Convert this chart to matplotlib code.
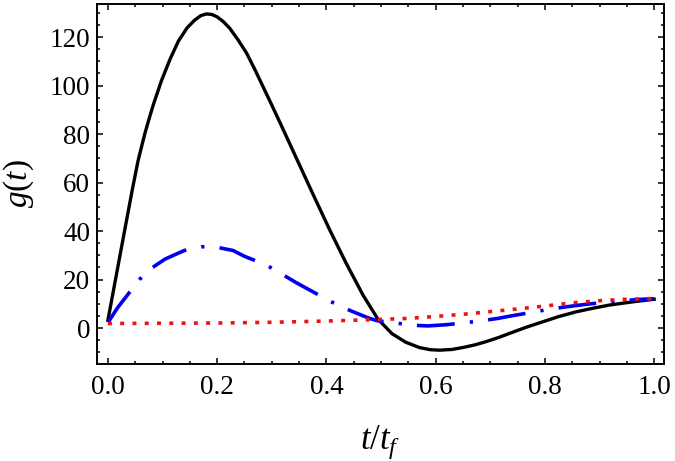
import numpy as np
import matplotlib
matplotlib.use("Agg")
import matplotlib.pyplot as plt
from matplotlib.ticker import MultipleLocator

# values
t_black = [0.0, 0.03, 0.045, 0.055, 0.062, 0.068, 0.075, 0.083, 0.098, 0.114, 0.129, 0.145,
           0.159, 0.17, 0.18, 0.19, 0.2, 0.211, 0.223, 0.238, 0.254, 0.269, 0.284, 0.299,
           0.314, 0.33, 0.348, 0.375, 0.406, 0.436, 0.467, 0.494, 0.52, 0.545, 0.57, 0.59,
           0.607, 0.63, 0.65, 0.672, 0.692, 0.715, 0.735, 0.765, 0.796, 0.826, 0.857, 0.888,
           0.918, 0.96, 1.0]
g_black = [3.3, 39.5, 57.5, 68.8, 75.2, 80.5, 86.0, 92.0, 102.0, 111.0, 118.3, 123.8,
           127.0, 128.8, 129.5, 129.3, 128.3, 126.4, 123.6, 118.9, 113.3, 106.6, 99.5, 92.4,
           85.2, 77.4, 68.6, 55.4, 40.5, 26.8, 13.6, 3.8, -2.3, -5.8, -8.0, -8.9,
           -9.1, -8.8, -8.0, -6.9, -5.6, -3.9, -2.2, 0.3, 2.6, 4.8, 6.7, 8.2,
           9.5, 10.8, 11.9]

t_blue = [0.0, 0.018, 0.058, 0.081, 0.105, 0.14, 0.171, 0.19, 0.2, 0.229, 0.25, 0.27,
          0.293, 0.318, 0.345, 0.375, 0.405, 0.43, 0.459, 0.479, 0.494, 0.525, 0.555,
          0.586, 0.62, 0.653, 0.683, 0.714, 0.735, 0.753, 0.781, 0.809, 0.84, 0.875,
          0.909, 0.937, 0.97, 1.0]
g_blue = [2.3, 8.5, 20.1, 24.9, 28.5, 32.0, 33.5, 33.6, 33.3, 32.0, 29.6, 27.8,
          25.6, 22.3, 18.7, 15.0, 11.3, 8.5, 5.8, 4.0, 3.0, 2.2, 1.2,
          0.9, 1.4, 2.2, 3.0, 4.0, 4.9, 5.6, 6.7, 7.8, 8.8, 9.8,
          10.6, 11.1, 11.8, 12.1]

t_red = [0.0, 0.1, 0.2, 0.3, 0.4, 0.5, 0.55, 0.6, 0.65, 0.7, 0.75, 0.8, 0.85, 0.9, 0.95, 1.0]
g_red = [1.9, 2.0, 2.1, 2.4, 2.9, 3.6, 4.0, 4.8, 5.7, 6.8, 7.9, 9.1, 10.4, 11.3, 11.9, 12.2]

plt.rcParams['font.family'] = ['Liberation Serif', 'DejaVu Serif']
plt.rcParams['mathtext.fontset'] = 'custom'
plt.rcParams['mathtext.rm'] = 'Liberation Serif'
plt.rcParams['mathtext.it'] = 'Liberation Serif:italic'

fig = plt.figure(figsize=(6.75, 4.61), dpi=100)
ax = fig.add_axes([0.1437, 0.2104, 0.84, 0.7809])

ax.plot(t_black, g_black, color='black', lw=2.4, solid_joinstyle='round')
ax.plot(t_blue, g_blue, color='#0000ee', lw=2.6, linestyle=(0, (10.5, 4.2, 0.9, 4.2)))
ax.plot(t_red, g_red, color='#ee1111', lw=2.6, linestyle=(0, (1.1, 2.3)))

ax.set_xlim(-0.02, 1.018)
ax.set_ylim(-14.8, 133.6)

ax.xaxis.set_major_locator(MultipleLocator(0.2))
ax.xaxis.set_minor_locator(MultipleLocator(0.05))
ax.yaxis.set_major_locator(MultipleLocator(20))
ax.yaxis.set_minor_locator(MultipleLocator(5))
ax.xaxis.set_major_formatter(plt.FuncFormatter(lambda v, p: "%.1f" % v))

ax.tick_params(which='both', direction='in', top=True, right=True, width=1.1,
               labelsize=19.5)
ax.tick_params(which='major', length=4)
ax.tick_params(which='minor', length=2.3)
ax.tick_params(axis='x', pad=8)
ax.tick_params(axis='y', pad=5)
for s in ax.spines.values():
    s.set_linewidth(1.4)

ax.set_xlabel(r'$t/t_f$', fontsize=25, labelpad=17)
ax.set_ylabel(r'$g(t)$', fontsize=24, labelpad=10)

fig.savefig('out.png', dpi=100)
